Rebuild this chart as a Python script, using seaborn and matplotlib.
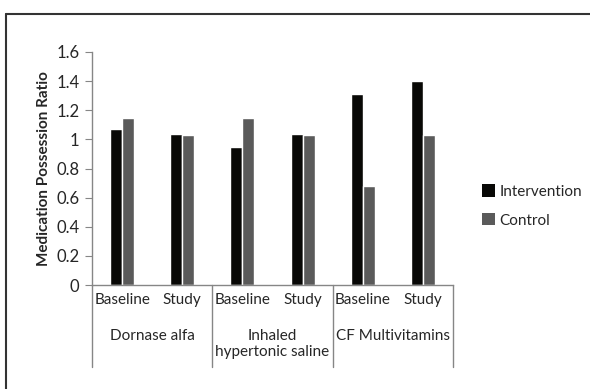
import matplotlib
matplotlib.use("Agg")
import matplotlib.pyplot as plt
import matplotlib.transforms as mtransforms
from matplotlib.lines import Line2D
from matplotlib.patches import Patch
import seaborn as sns
import pandas as pd

medications = ["Dornase alfa", "Inhaled\nhypertonic saline", "CF Multivitamins"]
periods = ["Baseline", "Study"]
series = ["Intervention", "Control"]
intervention = [1.07, 1.04, 0.95, 1.04, 1.31, 1.40]
control = [1.15, 1.03, 1.15, 1.03, 0.68, 1.03]
yticks = [0, 0.2, 0.4, 0.6, 0.8, 1.0, 1.2, 1.4, 1.6]

sns.set_style("white")
plt.rcParams["font.family"] = ["Lato", "DejaVu Sans"]

slots = [f"{m}|{p}" for m in medications for p in periods]
rows = []
for s, iv, cv in zip(slots, intervention, control):
    rows.append({"slot": s, "series": series[0], "value": iv})
    rows.append({"slot": s, "series": series[1], "value": cv})
df = pd.DataFrame(rows)

W, H = 590, 389
fig = plt.figure(figsize=(W / 100, H / 100), dpi=100)
ax = fig.add_axes([92 / W, 1 - 285 / H, (453 - 92) / W, (285 - 52) / H])

colors = {"Intervention": "#080806", "Control": "#5a5a5a"}
sns.barplot(data=df, x="slot", y="value", hue="series", order=slots,
            hue_order=series, palette=colors, width=0.4, dodge=True,
            ax=ax, legend=False, saturation=1)

ax.set_xlim(-0.5, len(slots) - 0.5)
ax.set_ylim(0, 1.6)
ax.set_yticks(yticks)
ax.set_yticklabels([f"{v:g}" for v in yticks], fontsize=12)
ax.set_xticks(range(len(slots)))
ax.set_xticklabels([p for m in medications for p in periods], fontsize=11)
ax.tick_params(axis="x", length=0, pad=6)
ax.tick_params(axis="y", length=5, color="#868686", left=True, pad=4)
ax.set_xlabel("")
ax.set_ylabel("Medication Possession Ratio", fontsize=11, fontweight="bold", labelpad=4)
for side in ["top", "right"]:
    ax.spines[side].set_visible(False)
for side in ["left", "bottom"]:
    ax.spines[side].set_color("#868686")
    ax.spines[side].set_linewidth(1)

trans = mtransforms.blended_transform_factory(ax.transData, ax.transAxes)
bottom_y = -(367 - 285) / (285 - 52)
for xs in [-0.5, 1.5, 3.5, 5.5]:
    ax.add_line(Line2D([xs, xs], [0, bottom_y], transform=trans, color="#868686",
                       lw=1, clip_on=False))
for i, m in enumerate(medications):
    ax.text(2 * i + 0.5, -(329 - 285) / (285 - 52), m, transform=trans,
            ha="center", va="top", fontsize=11, linespacing=1.15)

handles = [Patch(facecolor=colors[s], edgecolor="none", label=s) for s in series]
ax.legend(handles=handles, loc="center left", bbox_to_anchor=(468 / W, 1 - 206 / H),
          bbox_transform=fig.transFigure, frameon=False, handlelength=0.85,
          handleheight=0.85, handletextpad=0.3, labelspacing=0.95, fontsize=11)

fig.add_artist(Line2D([6 / W, 1], [1 - 14 / H, 1 - 14 / H], transform=fig.transFigure,
                      color="#333333", lw=1.5))
fig.add_artist(Line2D([6 / W, 6 / W], [0, 1 - 14 / H], transform=fig.transFigure,
                      color="#333333", lw=1.5))

fig.savefig("out.png", dpi=100)
